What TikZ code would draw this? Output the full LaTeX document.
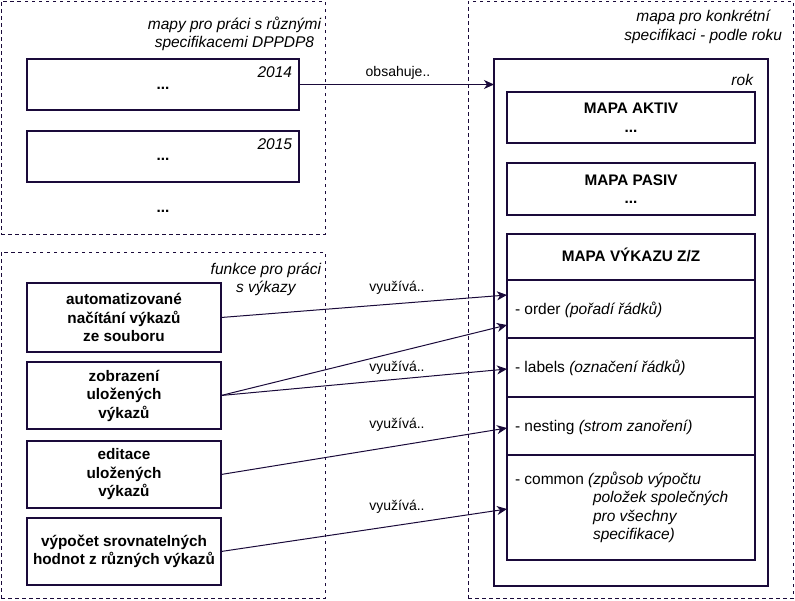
\documentclass[tikz,border=0pt]{standalone}
\usepackage{fontspec}
\setmainfont{Liberation Sans}
\usetikzlibrary{arrows.meta,calc}
\definecolor{ln}{HTML}{1A0A3A}
\begin{document}
\begin{tikzpicture}[x=1pt,y=-1pt,
  every node/.style={inner sep=0pt, outer sep=0pt},
  cont/.style={draw=ln, dash pattern=on 3.5pt off 3.5pt, line width=0.9pt},
  box/.style={draw=ln, line width=1.1pt, align=center, font=\fontsize{15.3}{18.5}\selectfont\bfseries},
  lab/.style={align=center, font=\fontsize{15.5}{18.5}\selectfont\itshape},
  txt/.style={align=left, font=\fontsize{15.5}{18.5}\selectfont},
  elab/.style={font=\fontsize{14}{16}\selectfont},
  arr/.style={draw=ln, line width=1pt, -{Stealth[length=10pt,width=9pt,inset=3pt]}}
]
\useasboundingbox (0,0) rectangle (795,600);

% containers
\node[cont, minimum width=324pt, minimum height=233pt] (ctl) at (163,117.5) {};
\node[cont, minimum width=324pt, minimum height=346pt] (cbl) at (163,425) {};
\node[cont, minimum width=325pt, minimum height=597pt] (cr) at (630.5,299.5) {};

\node[lab, anchor=east] (ltl) at (321,34) {mapy pro práci s různými\\specifikacemi DPPDP8};
\node[lab, anchor=east] (lbl) at (321,279.5) {funkce pro práci\\s výkazy};
\node[lab, anchor=east] (lr) at (782,27) {mapa pro konkrétní\\specifikaci - podle roku};

% year maps
\node[box, minimum width=272pt, minimum height=51pt] (y14) at (163,84.5) {};
\node[lab, anchor=east] (t14) at (292,72) {2014};
\node[box, draw=none] (d14) at (163,88) {...};
\node[box, minimum width=272pt, minimum height=51pt] (y15) at (163,156.5) {};
\node[lab, anchor=east] (t15) at (292,144) {2015};
\node[box, draw=none] (d15) at (163,159) {...};
\node[box, draw=none] (dmore) at (163,211) {...};

% functions
\node[box, minimum width=194pt, minimum height=69pt] (fa) at (124,317.5) {automatizované\\načítání výkazů\\ze souboru};
\node[box, minimum width=194pt, minimum height=67pt] (fb) at (124,395.5) {zobrazení\\uložených\\výkazů};
\node[box, minimum width=194pt, minimum height=67pt] (fc) at (124,474.5) {editace\\uložených\\výkazů};
\node[box, minimum width=194pt, minimum height=67pt] (fd) at (124,551.5) {výpočet srovnatelných\\hodnot z různých výkazů};

% year box
\node[box, minimum width=274pt, minimum height=527pt] (rok) at (631,322.5) {};
\node[lab, anchor=east] (trok) at (753,80) {rok};
\node[box, minimum width=248pt, minimum height=51pt] (aktiv) at (631,117.5) {MAPA AKTIV\\...};
\node[box, minimum width=248pt, minimum height=52pt] (pasiv) at (631,189) {MAPA PASIV\\...};
\node[box, minimum width=248pt, minimum height=46pt] (hdr) at (631,257) {};
\node[box, draw=none] (thdr) at (631,254.5) {MAPA VÝKAZU Z/Z};
\node[box, minimum width=248pt, minimum height=58pt] (order) at (631,309) {};
\node[box, minimum width=248pt, minimum height=59pt] (labels) at (631,367.5) {};
\node[box, minimum width=248pt, minimum height=58pt] (nesting) at (631,426) {};
\node[box, minimum width=248pt, minimum height=105pt] (common) at (631,507.5) {};
\node[txt, anchor=west] (torder) at (515,310) {- order \textit{(pořadí řádků)}};
\node[txt, anchor=west] (tlabels) at (515,368) {- labels \textit{(označení řádků)}};
\node[txt, anchor=west] (tnesting) at (515,427) {- nesting \textit{(strom zanoření)}};
\node[txt, anchor=west] (tcommon) at (515,507.5) {- common \textit{(způsob výpočtu}\\\hspace*{78pt}\textit{položek společných}\\\hspace*{78pt}\textit{pro všechny}\\\hspace*{78pt}\textit{specifikace)}};

% connectors
\draw[arr] (y14.east) -- (y14.east -| rok.west);
\node[elab] (eobs) at (398,73) {obsahuje..};
\draw[arr] (fa.east) -- ([yshift=14pt]order.west);
\node[elab] (e1) at (397,288) {využívá..};
\draw[arr] (fb.east) -- ([yshift=-16pt]order.west);
\draw[arr] (fb.east) -- ([yshift=-1.5pt]labels.west);
\node[elab] (e2) at (397,368) {využívá..};
\draw[arr] (fc.east) -- ([yshift=-2pt]nesting.west);
\node[elab] (e3) at (397,425) {využívá..};
\draw[arr] (fd.east) -- ([yshift=-1.5pt]common.west);
\node[elab] (e4) at (397,507) {využívá..};
\end{tikzpicture}
\end{document}
